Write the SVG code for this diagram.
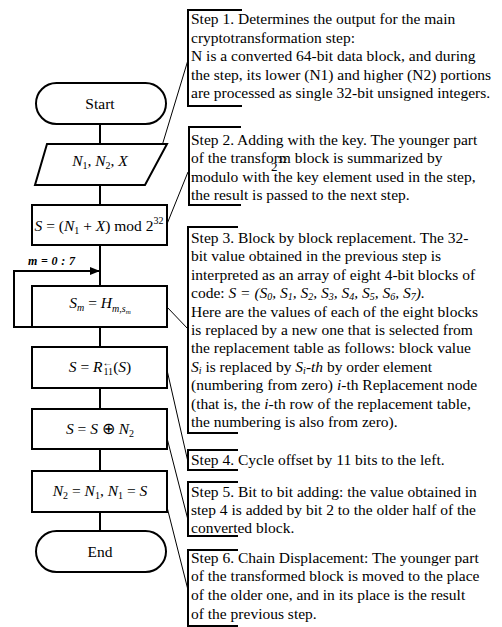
<svg xmlns="http://www.w3.org/2000/svg" width="502" height="627" viewBox="0 0 502 627">
<defs>
<style>
.sh{fill:#fff;stroke:#000;stroke-width:2}
.ln{fill:none;stroke:#000;stroke-width:2}
.ld{fill:none;stroke:#000;stroke-width:1}
.br{fill:none;stroke:#000;stroke-width:2}
text{font-family:"Liberation Serif","Times New Roman",serif;font-size:15.5px;fill:#000}
.c{text-anchor:middle}
.i{font-style:italic}
.s{font-size:10px}
</style>
<marker id="ah" viewBox="0 0 10 10" refX="10" refY="5" markerWidth="10" markerHeight="10" markerUnits="userSpaceOnUse" orient="auto">
<path d="M0,1 L10,5 L0,9 Z" fill="#000"/>
</marker>
</defs>
<rect width="502" height="627" fill="#fff"/>
<g id="connectors">
<path class="ln" d="M100,124 V144 M100,185 V205 M100,245 V286 M100,327 V347 M100,388 V409 M100,449 V471 M100,512 V531"/>
<path class="ln" d="M32,327 H14 V271 H100" marker-end="url(#ah)"/>
<text x="28" y="265" class="i" style="font-weight:bold;font-size:12px" textLength="47" lengthAdjust="spacing">m=0:7</text>
<path class="ld" d="M188,60 L158,159 M188,172 L167,224 M167,307 L188,329 M167,370 L188,462 M167,438 L188,520 M167,507 L188,590"/>
</g>
<g id="start"><rect class="sh" x="36" y="83" width="130" height="41" rx="20.5"/><text class="c" x="100" y="109">Start</text></g>
<g id="input"><path class="sh" d="M47,144 H167 L145,185 H35 Z"/><text class="c i" x="100" y="166">N<tspan class="s" dy="3" font-style="normal">1</tspan><tspan dy="-3" font-style="normal">, </tspan>N<tspan class="s" dy="3" font-style="normal">2</tspan><tspan dy="-3" font-style="normal">, </tspan>X</text></g>
<g id="add"><rect class="sh" x="32" y="205" width="135" height="40"/><text class="c" x="99" y="231"><tspan class="i">S</tspan> = (<tspan class="i">N</tspan><tspan class="s" dy="3">1</tspan><tspan dy="-3"> + </tspan><tspan class="i">X</tspan>) mod 2<tspan class="s" dy="-7">32</tspan></text></g>
<g id="subst"><rect class="sh" x="32" y="286" width="135" height="41"/><text class="c i" x="100" y="308">S<tspan class="s" dy="3">m</tspan><tspan dy="-3" font-style="normal"> = </tspan>H<tspan class="s" dy="4">m,s</tspan><tspan style="font-size:7px" dy="2">m</tspan></text></g>
<g id="rot"><rect class="sh" x="32" y="347" width="135" height="41"/><text class="c" x="100" y="372"><tspan class="i">S</tspan> = <tspan class="i">R</tspan><tspan class="s" dy="-6">←</tspan><tspan class="s" dx="-9" dy="9">11</tspan><tspan dy="-3">(</tspan><tspan class="i">S</tspan>)</text></g>
<g id="xor"><rect class="sh" x="32" y="409" width="135" height="40"/><text class="c" x="100" y="434"><tspan class="i">S</tspan> = <tspan class="i">S</tspan> ⊕ <tspan class="i">N</tspan><tspan class="s" dy="3">2</tspan></text></g>
<g id="swap"><rect class="sh" x="32" y="471" width="135" height="41"/><text class="c" x="100" y="496"><tspan class="i">N</tspan><tspan class="s" dy="3">2</tspan><tspan dy="-3"> = </tspan><tspan class="i">N</tspan><tspan class="s" dy="3">1</tspan><tspan dy="-3">, </tspan><tspan class="i">N</tspan><tspan class="s" dy="3">1</tspan><tspan dy="-3"> = </tspan><tspan class="i">S</tspan></text></g>
<g id="end"><rect class="sh" x="36" y="531" width="130" height="41" rx="20.5"/><text class="c" x="100" y="557">End</text></g>
<g id="step1"><path class="br" d="M242,10 H188 V106 H242"/>
<text x="191" y="24">Step 1. Determines the output for the main</text>
<text x="191" y="42.5">cryptotransformation step:</text>
<text x="191" y="61">N is a converted 64-bit data block, and during</text>
<text x="191" y="79.5">the step, its lower (N1) and higher (N2) portions</text>
<text x="191" y="98">are processed as single 32-bit unsigned integers.</text>
</g>
<g id="step2"><path class="br" d="M241,127 H189 V205 H241"/>
<text x="191" y="145">Step 2. Adding with the key. The younger part</text>
<text x="191" y="163">of the transform block is summarized by</text>
<text x="191" y="181.5">modulo with the key element used in the step,</text>
<text x="191" y="200">the result is passed to the next step.</text>
<text x="271" y="171" style="font-size:13px">2</text><text x="278" y="163" style="font-size:9px">32</text>
</g>
<g id="step3"><path class="br" d="M238,227 H188 V433 H238"/>
<text x="191" y="243">Step 3. Block by block replacement. The 32-</text>
<text x="191" y="261.4">bit value obtained in the previous step is</text>
<text x="191" y="279.8">interpreted as an array of eight 4-bit blocks of</text>
<text x="191" y="298.2">code: <tspan class="i">S = (S<tspan class="s" dy="2">0</tspan><tspan dy="-2">, S</tspan><tspan class="s" dy="2">1</tspan><tspan dy="-2">, S</tspan><tspan class="s" dy="2">2</tspan><tspan dy="-2">, S</tspan><tspan class="s" dy="2">3</tspan><tspan dy="-2">, S</tspan><tspan class="s" dy="2">4</tspan><tspan dy="-2">, S</tspan><tspan class="s" dy="2">5</tspan><tspan dy="-2">, S</tspan><tspan class="s" dy="2">6</tspan><tspan dy="-2">, S</tspan><tspan class="s" dy="2">7</tspan><tspan dy="-2">).</tspan></tspan></text>
<text x="191" y="316.6">Here are the values of each of the eight blocks</text>
<text x="191" y="335">is replaced by a new one that is selected from</text>
<text x="191" y="353.4">the replacement table as follows: block value</text>
<text x="191" y="371.8"><tspan class="i">S</tspan><tspan class="s i" dy="2">i</tspan><tspan dy="-2">  is replaced by </tspan><tspan class="i">S</tspan><tspan class="s i" dy="2">i</tspan><tspan class="i" dy="-2">-th</tspan>  by order element</text>
<text x="191" y="390.2">(numbering from zero) <tspan class="i">i</tspan>-th Replacement node</text>
<text x="191" y="408.6">(that is, the <tspan class="i">i</tspan>-th row of the replacement table,</text>
<text x="191" y="427">the numbering is also from zero).</text>
</g>
<g id="step4"><path class="br" d="M238,450 H188 V470 H238"/>
<text x="191" y="465">Step 4. Cycle offset by 11 bits to the left.</text>
</g>
<g id="step5"><path class="br" d="M238,482 H188 V536 H238"/>
<text x="191" y="496.5">Step 5. Bit to bit adding: the value obtained in</text>
<text x="191" y="514.5">step 4 is added by bit 2 to the older half of the</text>
<text x="191" y="532.5">converted block.</text>
</g>
<g id="step6"><path class="br" d="M238,550 H188 V626 H238"/>
<text x="191" y="562.5">Step 6. Chain Displacement: The younger part</text>
<text x="191" y="581">of the transformed block is moved to the place</text>
<text x="191" y="599.5">of the older one, and in its place is the result</text>
<text x="191" y="618.5">of the previous step.</text>
</g>
</svg>
